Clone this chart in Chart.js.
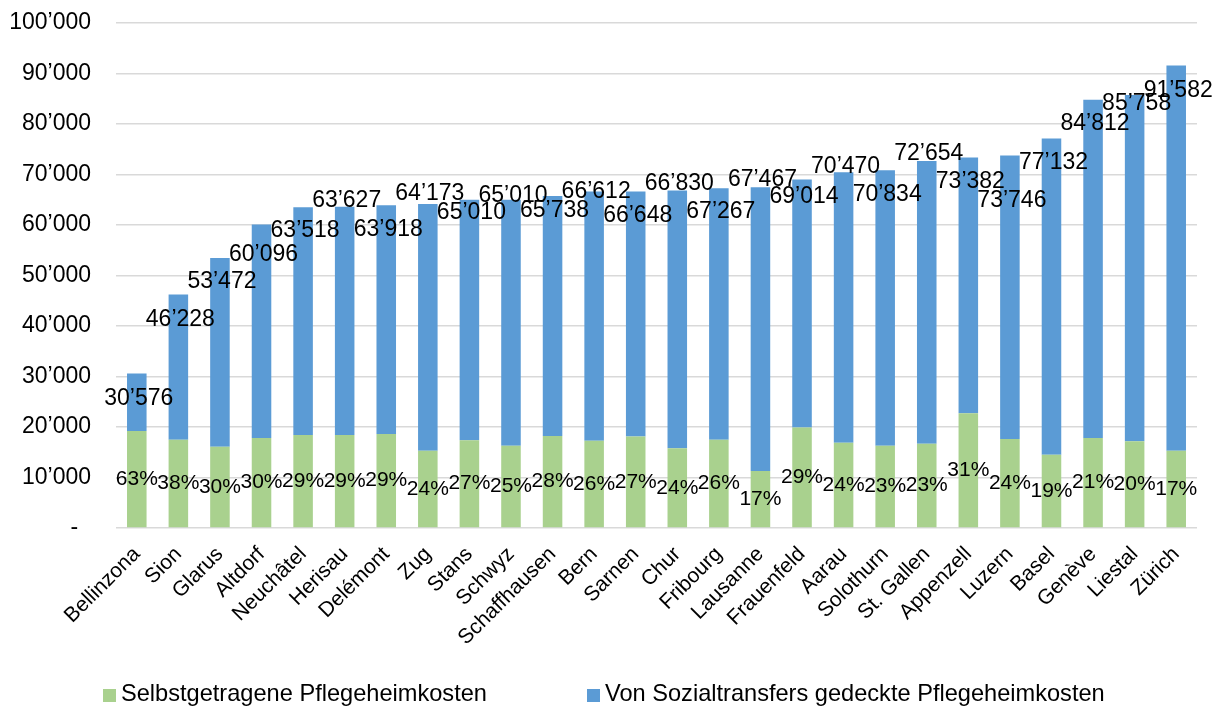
<!DOCTYPE html>
<html>
<head>
<meta charset="utf-8">
<script src="https://cdn.jsdelivr.net/npm/chart.js@4.4.0/dist/chart.umd.min.js"></script>
<style>
    body { margin: 0; background: #fff; font-family: 'Liberation Sans', Arial, sans-serif; }
    #wrap { position: relative; width: 1223px; height: 707px; overflow: hidden; }
    #chartBox { position: absolute; left: 0; top: 0; width: 1223px; height: 680px; }
    .legend-item { position: absolute; top: 679px; font-size: 23.6px; color: #000; white-space: nowrap; line-height: 28px; }
    .legend-item span.box { display: inline-block; width: 13px; height: 13px; margin-right: 5px; vertical-align: -1px; }
</style>
</head>
<body>
<div id="wrap">
    <div id="chartBox"><canvas id="costChart"></canvas></div>
    <div class="legend-item" style="left:103px"><span class="box" style="background:#A9D18E"></span>Selbstgetragene Pflegeheimkosten</div>
    <div class="legend-item" style="left:587px"><span class="box" style="background:#5B9BD5"></span>Von Sozialtransfers gedeckte Pflegeheimkosten</div>
</div>
<script>
// Kategorien (Orte)
const cities = ['Bellinzona', 'Sion', 'Glarus', 'Altdorf', 'Neuchâtel', 'Herisau', 'Delémont', 'Zug',
    'Stans', 'Schwyz', 'Schaffhausen', 'Bern', 'Sarnen', 'Chur', 'Fribourg', 'Lausanne', 'Frauenfeld',
    'Aarau', 'Solothurn', 'St. Gallen', 'Appenzell', 'Luzern', 'Basel', 'Genève', 'Liestal', 'Zürich'];

// Gesamtkosten (Beschriftung oben)
const totals = [30576, 46228, 53472, 60096, 63518, 63627, 63918, 64173, 65010, 65010, 65738, 66612,
    66648, 66830, 67267, 67467, 69014, 70470, 70834, 72654, 73382, 73746, 77132, 84812, 85758, 91582];

// Selbstgetragene Kosten (geschätzt aus der Grafik)
const selfPaid = [19200, 17500, 16100, 17800, 18400, 18400, 18600, 15300, 17400, 16300, 18200, 17300,
    18100, 15800, 17500, 11300, 19900, 16900, 16300, 16700, 22700, 17600, 14500, 17800, 17200, 15300];

// Anteil selbstgetragen
const shareLabels = ['63%', '38%', '30%', '30%', '29%', '29%', '29%', '24%', '27%', '25%', '28%', '26%',
    '27%', '24%', '26%', '17%', '29%', '24%', '23%', '23%', '31%', '24%', '19%', '21%', '20%', '17%'];

// Rest = von Sozialtransfers gedeckt
const socialCovered = totals.map((t, i) => t - selfPaid[i]);

// Verschiebung der Summen-Beschriftung (px, relativ zum Balkenende)
const totalLabelShift = [25, 25, 24, 30, 23, -6, 24, -10, 13, -4, 15, 0, 24, -7, 23, -8, 17, -5, 24, -7,
    24, 45, 24, 24, 9, 25];

const TEXT = '#000';
const FONT = "'Liberation Sans', Arial, sans-serif";

function fmt(v) {
    return Math.round(v).toString().replace(/\B(?=(\d{3})+(?!\d))/g, '\u2019');
}

// Beschriftungen auf den Balken
const barLabels = {
    id: 'barLabels',
    afterDatasetsDraw(chart) {
        const ctx = chart.ctx;
        const green = chart.getDatasetMeta(0).data;
        const blue = chart.getDatasetMeta(1).data;
        ctx.save();
        ctx.fillStyle = TEXT;
        ctx.textAlign = 'center';
        ctx.textBaseline = 'middle';
        ctx.font = '21px ' + FONT;
        green.forEach((bar, i) => {
            ctx.fillText(shareLabels[i], bar.x, (bar.y + bar.base) / 2);
        });
        ctx.font = '23px ' + FONT;
        blue.forEach((bar, i) => {
            ctx.fillText(fmt(totals[i]), bar.x + 2, bar.y + totalLabelShift[i]);
        });
        ctx.restore();
    }
};

const config = {
    type: 'bar',
    data: {
        labels: cities,
        datasets: [{
            label: 'Selbstgetragene Pflegeheimkosten',
            data: selfPaid,
            backgroundColor: '#A9D18E',
            categoryPercentage: 0.47,
            barPercentage: 1
        }, {
            label: 'Von Sozialtransfers gedeckte Pflegeheimkosten',
            data: socialCovered,
            backgroundColor: '#5B9BD5',
            categoryPercentage: 0.47,
            barPercentage: 1
        }]
    },
    options: {
        responsive: true,
        maintainAspectRatio: false,
        animation: false,
        layout: { padding: { left: 0, right: 26, top: 23, bottom: 0 } },
        plugins: {
            legend: { display: false },
            tooltip: { enabled: false }
        },
        scales: {
            x: {
                stacked: true,
                grid: { display: false },
                border: { display: false },
                ticks: {
                    color: TEXT,
                    font: { family: FONT, size: 21 },
                    minRotation: 45,
                    maxRotation: 45,
                    autoSkip: false,
                    padding: 6
                },
                afterFit(scale) { scale.height = 152; }
            },
            y: {
                stacked: true,
                min: 0,
                max: 100000,
                grid: { color: '#d9d9d9', lineWidth: 1.5, drawTicks: false },
                border: { display: false },
                ticks: {
                    stepSize: 10000,
                    color: TEXT,
                    font: { family: FONT, size: 23 },
                    padding: 25,
                    callback: v => v === 0 ? '-  ' : fmt(v)
                },
                afterFit(scale) {
                    scale.width = 116;
                    // Abstand der Beschriftung nicht in die Höhe übernehmen
                    scale.paddingTop = 0;
                    scale.paddingBottom = 0;
                }
            }
        }
    },
    plugins: [barLabels]
};

new Chart(document.getElementById('costChart').getContext('2d'), config);
</script>
</body>
</html>
